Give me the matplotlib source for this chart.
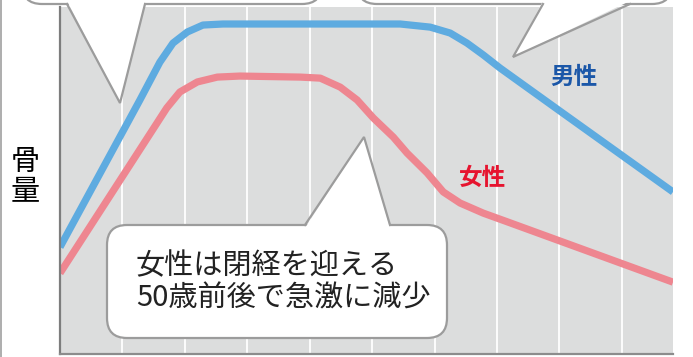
import matplotlib.pyplot as plt
from matplotlib.patches import FancyBboxPatch, Polygon

plt.rcParams['font.family'] = ['Noto Sans CJK JP', 'DejaVu Sans']

# data: age (years) vs relative bone mass
male_age = [0, 12.8, 16.0, 18.1, 20.4, 22.9, 26.1, 54.5, 59.3, 62.5, 65.2,
            67.8, 70.5, 80.1, 98.2]
male_bone = [30.8, 73.2, 84.1, 89.6, 92.8, 94.8, 95.1, 95.1, 94.2, 92.5, 89.6,
             86.2, 82.4, 70.0, 46.7]
female_age = [0, 17.1, 19.2, 22.0, 25.2, 28.8, 38.5, 41.7, 44.9, 47.6, 50.2,
              53.4, 55.6, 58.8, 61.4, 64.1, 67.8, 72.1, 98.2]
female_bone = [23.3, 70.9, 75.5, 78.4, 79.8, 80.1, 79.8, 79.5, 76.9, 73.2, 68.0,
               62.5, 57.9, 52.2, 46.7, 43.5, 40.6, 37.8, 20.7]
grid_ages = [10, 20, 30, 40, 50, 60, 70, 80, 90]

y_label = "骨量"
male_label = "男性"
female_label = "女性"
note_lines = ["女性は閉経を迎える", "50歳前後で急激に減少"]

W, H = 693, 357
fig = plt.figure(figsize=(W / 100, H / 100), dpi=100)
fig.patch.set_facecolor("white")

# main chart
ax = fig.add_axes([60 / W, 3 / H, 613 / W, 347 / H])
ax.set_facecolor("#dcdddd")
ax.set_xlim(0, 98.2)
ax.set_ylim(0, 100)
ax.set_xticks(grid_ages)
ax.set_yticks([])
ax.tick_params(length=0, labelbottom=False)
ax.grid(axis="x", color="white", lw=1.3)
ax.set_axisbelow(True)
for s in ("top", "right"):
    ax.spines[s].set_visible(False)
ax.spines["left"].set_color("#7d7d7d")
ax.spines["left"].set_linewidth(1.6)
ax.spines["bottom"].set_color("#8c8c8c")
ax.spines["bottom"].set_linewidth(1.6)

ax.plot(male_age, male_bone, color="#5eabe0", lw=5.2, solid_joinstyle="round",
        solid_capstyle="butt")
ax.plot(female_age, female_bone, color="#ee8690", lw=5.2, solid_joinstyle="round",
        solid_capstyle="butt")

# overlay in pixel units for bubbles and labels
ov = fig.add_axes([0, 0, 1, 1], zorder=5)
ov.set_xlim(0, W)
ov.set_ylim(H, 0)
ov.axis("off")
ov.patch.set_alpha(0)

edge = "#9c9c9c"


def bubble(x0, y0, x1, y1, tail, inner, r=20):
    box = FancyBboxPatch((x0, y0), x1 - x0, y1 - y0,
                         boxstyle=f"round,pad=0,rounding_size={r}",
                         fc="white", ec=edge, lw=1.6, zorder=1)
    ov.add_patch(box)
    (a, tip, b) = tail
    ov.add_patch(Polygon([(a[0], a[1] + inner), tip, (b[0], b[1] + inner)],
                         closed=True, fc="white", ec="none", zorder=2))
    ov.plot([a[0], tip[0], b[0]], [a[1], tip[1], b[1]], color=edge, lw=1.6,
            solid_joinstyle="miter", zorder=3)


bubble(22, -120, 322, 4, [(67, 4), (120, 103), (145, 4)], -3)
bubble(357, -120, 672, 4, [(543, 4), (513, 57), (630, 4)], -3)
bubble(107, 225, 447, 338, [(305, 225), (364, 137), (390, 225)], 3)

# left border
ov.plot([1, 1], [0, H], color="#a0a0a0", lw=1.2)

ov.text(136, 266, note_lines[0], fontsize=21, color="#222222", ha="left", va="center", zorder=4)
ov.text(136, 298, note_lines[1], fontsize=21, color="#222222", ha="left", va="center", zorder=4)

ov.text(25, 162, y_label[0], fontsize=21, color="black", ha="center", va="center")
ov.text(25, 192, y_label[1], fontsize=21, color="black", ha="center", va="center")

ov.text(574, 77, male_label, fontsize=17, fontweight="bold", color="#1b57a8",
        ha="center", va="center")
ov.text(483, 178, female_label, fontsize=17, fontweight="bold", color="#e6142f",
        ha="center", va="center")

fig.savefig("out.png", dpi=100)
